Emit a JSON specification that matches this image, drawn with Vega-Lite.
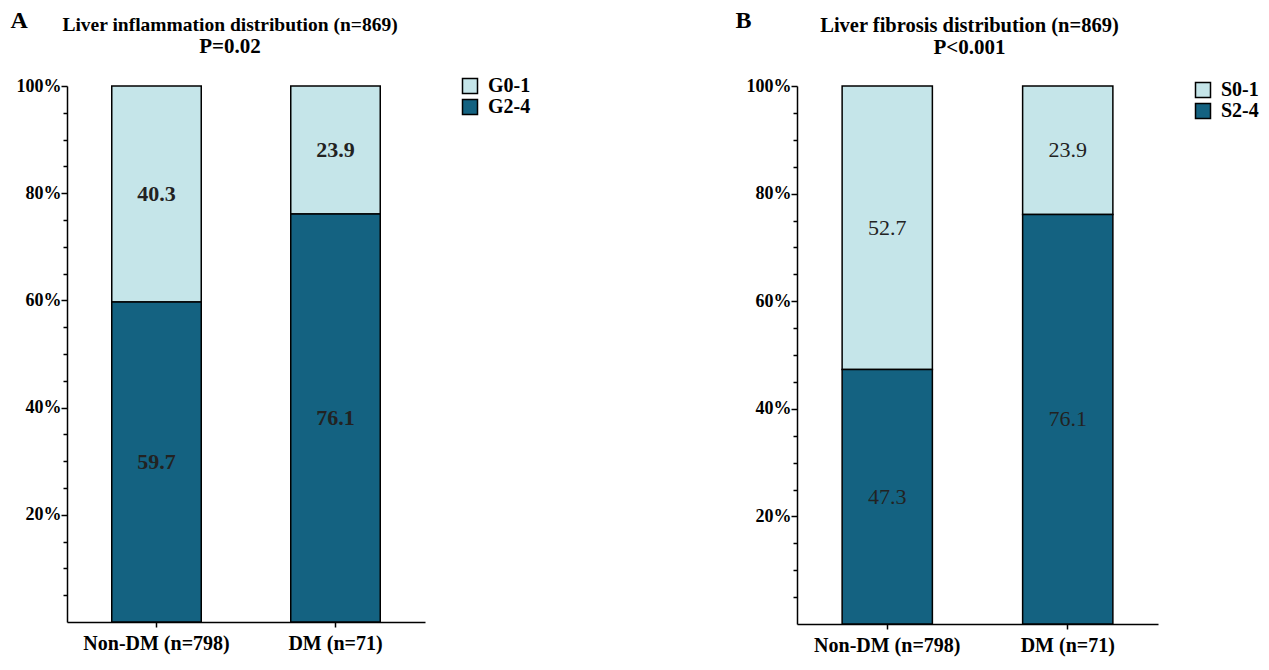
{
  "$schema": "https://vega.github.io/schema/vega-lite/v6.json",
  "background": "white",
  "padding": {"left": 10, "top": 8, "right": 5, "bottom": 5},
  "datasets": {
    "inflammation": [
      {"group": "Non-DM (n=798)", "grade": "G0-1", "value": 40.3},
      {"group": "Non-DM (n=798)", "grade": "G2-4", "value": 59.7},
      {"group": "DM (n=71)", "grade": "G0-1", "value": 23.9},
      {"group": "DM (n=71)", "grade": "G2-4", "value": 76.1}
    ],
    "fibrosis": [
      {"group": "Non-DM (n=798)", "grade": "S0-1", "value": 52.7},
      {"group": "Non-DM (n=798)", "grade": "S2-4", "value": 47.3},
      {"group": "DM (n=71)", "grade": "S0-1", "value": 23.9},
      {"group": "DM (n=71)", "grade": "S2-4", "value": 76.1}
    ]
  },
  "spacing": 204,
  "hconcat": [
    {
      "width": 358,
      "height": 536,
      "data": {"name": "inflammation"},
      "title": {"text": "Liver inflammation distribution (n=869)", "subtitle": "P=0.02", "dx": -16, "fontSize": 19.5},
      "transform": [
        {"stack": "value", "groupby": ["group"], "sort": [{"field": "grade", "order": "descending"}], "as": ["y0", "y1"]},
        {"calculate": "(datum.y0 + datum.y1) / 2", "as": "ymid"}
      ],
      "encoding": {
        "x": {"field": "group", "type": "nominal", "sort": ["Non-DM (n=798)", "DM (n=71)"],
              "scale": {"paddingInner": 0.5, "paddingOuter": 0.25},
              "axis": {"title": null, "labelAngle": 0, "labelFontSize": 20, "labelFontWeight": "bold", "tickSize": 5, "labelPadding": 6}}
      },
      "layer": [
        {
          "mark": {"type": "bar", "stroke": "black", "strokeWidth": 1.5},
          "encoding": {
            "y": {"field": "y0", "type": "quantitative", "scale": {"domain": [0, 100], "nice": false},
                  "axis": {"title": "A", "orient": "left", "titleAngle": 0, "titleAlign": "left", "titleBaseline": "alphabetic",
                           "titleX": -57, "titleY": -59, "titleFontSize": 24, "titleFontWeight": "bold",
                           "values": [20, 40, 60, 80, 100],
                           "format": "d",
                           "labelExpr": "datum.label + '%'",
                           "tickSize": 6,
                           "labelFontSize": 18, "labelFontWeight": "bold", "labelPadding": 0}},
            "y2": {"field": "y1"},
            "color": {"field": "grade", "type": "nominal",
                      "scale": {"domain": ["G0-1", "G2-4"], "range": ["#c5e5e9", "#146281"]},
                      "legend": {"title": null, "orient": "none", "legendX": 393, "legendY": -10}}
          }
        },
        {
          "mark": {"type": "text", "fontSize": 22, "fontWeight": "bold", "color": "#222222"},
          "encoding": {
            "y": {"field": "ymid", "type": "quantitative",
                  "axis": {"title": null, "orient": "left", "values": [5, 10, 15, 25, 30, 35, 45, 50, 55, 65, 70, 75, 85, 90, 95],
                           "labels": false, "domain": false, "tickSize": 4}},
            "text": {"field": "value", "type": "quantitative", "format": ".1f"}
          }
        }
      ],
      "resolve": {"axis": {"y": "independent"}}
    },
    {
      "width": 361,
      "height": 538,
      "data": {"name": "fibrosis"},
      "title": {"text": "Liver fibrosis distribution (n=869)", "subtitle": "P<0.001", "dx": -8, "fontSize": 20.5},
      "transform": [
        {"stack": "value", "groupby": ["group"], "sort": [{"field": "grade", "order": "descending"}], "as": ["y0", "y1"]},
        {"calculate": "(datum.y0 + datum.y1) / 2", "as": "ymid"}
      ],
      "encoding": {
        "x": {"field": "group", "type": "nominal", "sort": ["Non-DM (n=798)", "DM (n=71)"],
              "scale": {"paddingInner": 0.5, "paddingOuter": 0.25},
              "axis": {"title": null, "labelAngle": 0, "labelFontSize": 20, "labelFontWeight": "bold", "tickSize": 5, "labelPadding": 6}}
      },
      "layer": [
        {
          "mark": {"type": "bar", "stroke": "black", "strokeWidth": 1.5},
          "encoding": {
            "y": {"field": "y0", "type": "quantitative", "scale": {"domain": [0, 100], "nice": false},
                  "axis": {"title": "B", "orient": "left", "titleAngle": 0, "titleAlign": "left", "titleBaseline": "alphabetic",
                           "titleX": -62, "titleY": -59, "titleFontSize": 24, "titleFontWeight": "bold",
                           "values": [20, 40, 60, 80, 100],
                           "format": "d",
                           "labelExpr": "datum.label + '%'",
                           "tickSize": 6,
                           "labelFontSize": 18, "labelFontWeight": "bold", "labelPadding": 0}},
            "y2": {"field": "y1"},
            "color": {"field": "grade", "type": "nominal",
                      "scale": {"domain": ["S0-1", "S2-4"], "range": ["#c5e5e9", "#146281"]},
                      "legend": {"title": null, "orient": "none", "legendX": 396, "legendY": -6}}
          }
        },
        {
          "mark": {"type": "text", "fontSize": 22, "fontWeight": "normal", "color": "#222222"},
          "encoding": {
            "y": {"field": "ymid", "type": "quantitative",
                  "axis": {"title": null, "orient": "left", "values": [5, 10, 15, 25, 30, 35, 45, 50, 55, 65, 70, 75, 85, 90, 95],
                           "labels": false, "domain": false, "tickSize": 4}},
            "text": {"field": "value", "type": "quantitative", "format": ".1f"}
          }
        }
      ],
      "resolve": {"axis": {"y": "independent"}}
    }
  ],
  "resolve": {"scale": {"color": "independent", "y": "independent"}, "legend": {"color": "independent"}},
  "config": {
    "font": "Liberation Serif",
    "view": {"stroke": null},
    "title": {"fontWeight": "bold", "color": "black", "subtitleFontSize": 21, "subtitleFontWeight": "bold", "subtitleColor": "black", "subtitleFont": "Liberation Serif", "subtitlePadding": 1, "anchor": "middle", "frame": "group", "offset": -50},
    "axis": {"grid": false, "domainColor": "black", "domainWidth": 1.5, "tickColor": "black", "tickWidth": 1.5, "labelColor": "black", "titleColor": "black", "labelFont": "Liberation Serif", "titleFont": "Liberation Serif"},
    "legend": {"symbolType": "square", "symbolSize": 225, "symbolStrokeColor": "black", "symbolStrokeWidth": 1.5, "labelFontSize": 20, "labelFontWeight": "bold", "labelFont": "Liberation Serif", "labelColor": "black", "rowPadding": -3, "padding": 0, "labelOffset": 8}
  }
}
